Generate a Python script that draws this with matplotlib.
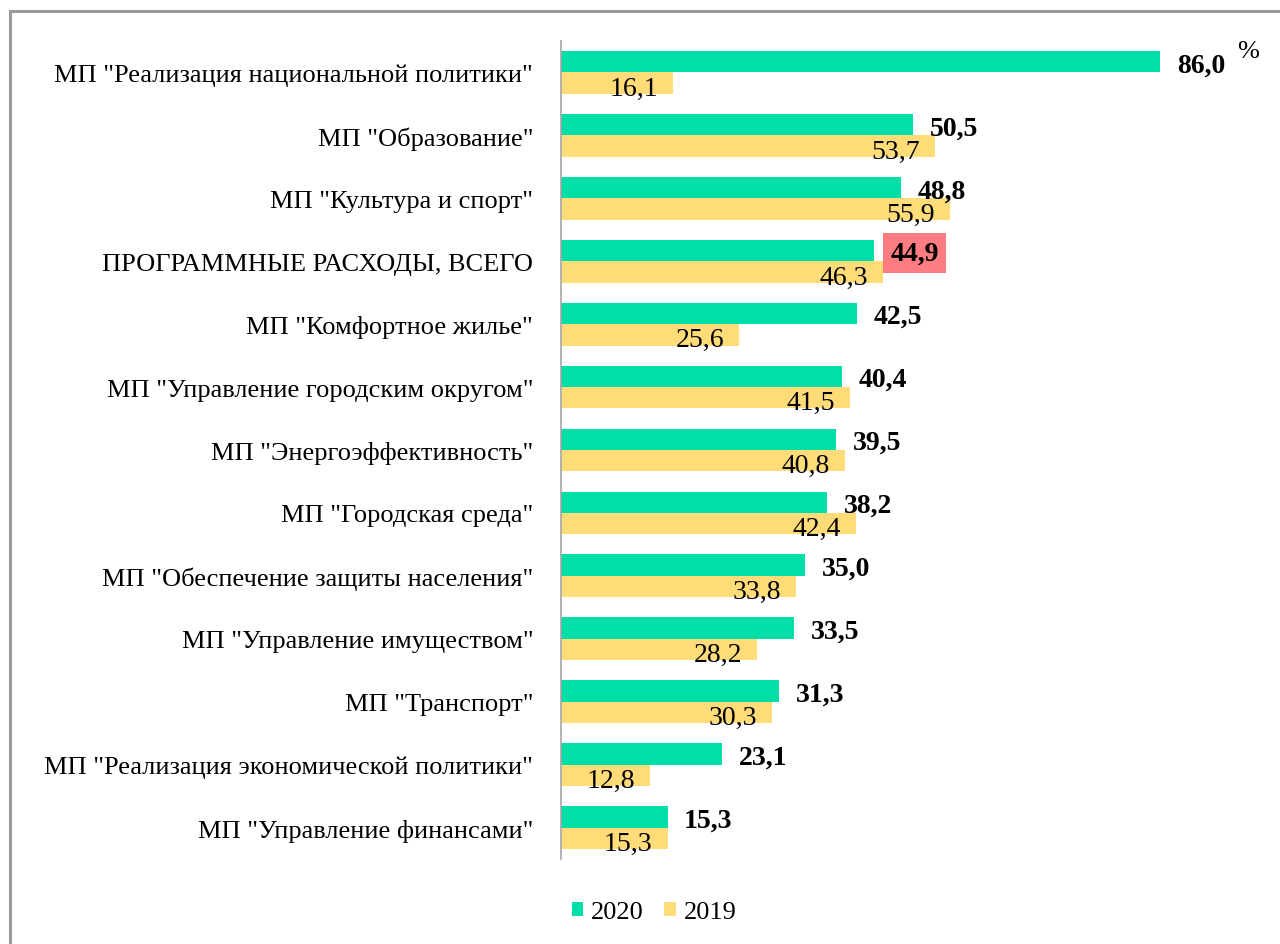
import matplotlib
matplotlib.use("Agg")
import matplotlib.pyplot as plt
from matplotlib.patches import Rectangle

plt.rcParams['font.family'] = ['Liberation Serif', 'DejaVu Serif']

categories = [
    'МП "Реализация национальной политики"',
    'МП "Образование"',
    'МП "Культура и спорт"',
    'ПРОГРАММНЫЕ РАСХОДЫ, ВСЕГО',
    'МП "Комфортное жилье"',
    'МП "Управление городским округом"',
    'МП "Энергоэффективность"',
    'МП "Городская среда"',
    'МП "Обеспечение защиты населения"',
    'МП "Управление имуществом"',
    'МП "Транспорт"',
    'МП "Реализация экономической политики"',
    'МП "Управление финансами"',
]
values_2020 = [86.0, 50.5, 48.8, 44.9, 42.5, 40.4, 39.5, 38.2, 35.0, 33.5, 31.3, 23.1, 15.3]
values_2019 = [16.1, 53.7, 55.9, 46.3, 25.6, 41.5, 40.8, 42.4, 33.8, 28.2, 30.3, 12.8, 15.3]
series_names = ["2020", "2019"]
highlight_index = 3

c20 = "#00DFA8"
c19 = "#FFDC78"

fig = plt.figure(figsize=(12.8, 9.45), dpi=100)
W, H = 1280, 945
ax = fig.add_axes([561 / W, 1 - 860 / H, 696.5 / W, (860 - 42) / H])

n = len(categories)
ys = list(range(n))
h = 0.34
b20 = ax.barh([y - h / 2 for y in ys], values_2020, height=h, color=c20, label=series_names[0])
b19 = ax.barh([y + h / 2 for y in ys], values_2019, height=h, color=c19, label=series_names[1])

ax.set_xlim(0, 100)
ax.set_ylim(n - 0.5, -0.5)
ax.set_yticks(ys)
ax.set_yticklabels(categories, fontsize=19)
ax.tick_params(axis='y', length=0, pad=20)
for lbl in ax.get_yticklabels():
    lbl.set_y(lbl.get_position()[1])
ax.set_xticks([])
for s in ['top', 'right', 'bottom']:
    ax.spines[s].set_visible(False)
ax.spines['left'].set_color('#A6A6A6')
ax.spines['left'].set_linewidth(1.2)

fmt = lambda v: f"{v:.1f}".replace('.', ',')

for i, (v20, v19) in enumerate(zip(values_2020, values_2019)):
    if i == highlight_index:
        ax.annotate(fmt(v20), xy=(v20, i - 0.13), xytext=(12, 0), textcoords='offset points',
                    ha='left', va='center', fontsize=20, fontweight='bold',
                    bbox=dict(boxstyle='square,pad=0.27', fc='#FF7C80', ec='none'))
    else:
        ax.annotate(fmt(v20), xy=(v20, i - h / 2 + 0.05), xytext=(12, 0), textcoords='offset points',
                    ha='left', va='center', fontsize=20, fontweight='bold')
    ax.annotate(fmt(v19), xy=(v19, i + h / 2 + 0.08), xytext=(-11, 0), textcoords='offset points',
                ha='right', va='center', fontsize=20)

fig.text(1248 / W, 1 - 52 / H, '%', fontsize=19, ha='center', va='center')

fig.legend(handles=[b20, b19], labels=series_names, loc='center', bbox_to_anchor=(654 / W, 1 - 913 / H),
           ncol=2, frameon=False, fontsize=19, handlelength=0.45, handleheight=0.45,
           handletextpad=0.3, columnspacing=0.75)

fig.patches.append(Rectangle((10 / W, -0.1), 1.2, 1.1 - 12 / H, transform=fig.transFigure,
                             fill=False, ec='#9A9A9A', lw=2.2))

fig.savefig('out.png', dpi=100, facecolor='white')
